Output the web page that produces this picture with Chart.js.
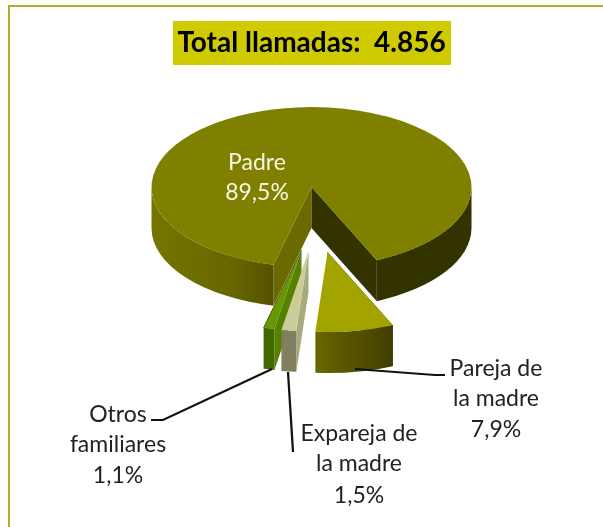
<!DOCTYPE html>
<html lang="es">
<head>
<meta charset="utf-8">
<title>Total llamadas</title>
<script src="https://cdn.jsdelivr.net/npm/chart.js@4/dist/chart.umd.min.js"></script>
<style>
  html, body { margin: 0; padding: 0; background: #fff; overflow: hidden; }
  canvas { display: block; }
</style>
</head>
<body>
<canvas id="myChart" width="603" height="527"></canvas>
<script>
/* Data */
const categories = ['Padre', 'Pareja de la madre', 'Expareja de la madre', 'Otros familiares'];
const values = [89.5, 7.9, 1.5, 1.1];
const percentLabels = ['89,5%', '7,9%', '1,5%', '1,1%'];
const titleText = 'Total llamadas:  4.856';

/* Slice styles */
const topColors = ['#808000', '#a3a300', '#cccc99', '#669900'];
const wallColors = [
  ['#757500', '#6e6e00', '#686600', '#545200'],
  ['#6b6800', '#5a5600', '#4f4c00', '#3f3d00'],
  ['#808060', '#808060'],
  ['#3f6a00', '#3f6a00']
];
const wallRightColor = ['#333300', null, null, null];
const startEdgeColors = ['#6b6a00', '#3f3d00', '#a9a97e', '#558000'];
const endEdgeColors = ['#333300', null, null, '#55551f'];
const explode = [[0, 0], [16, 65], [-3, 64], [-10, 63]];
const drawOrder = [0, 3, 2, 1];
const squash = 0.5;
const depth = 41;

/* Label layout: text lines and line-centre positions */
const labelLines = [
  { lines: ['Padre', percentLabels[0]], x: 257, y: [163, 193], color: '#f6f6e4' },
  { lines: ['Pareja de', 'la madre', percentLabels[1]], x: 496, y: [369, 399, 430], color: '#222' },
  { lines: ['Expareja de', 'la madre', percentLabels[2]], x: 359, y: [434, 464, 496], color: '#222' },
  { lines: ['Otros', 'familiares', percentLabels[3]], x: 118, y: [415, 445, 476], color: '#222' }
];
const leaders = [
  [[355, 369], [435, 375], [445, 375]],
  [[288, 372], [293, 452]],
  [[272, 369], [163, 420], [151, 420]]
];

function wall(ctx, el, dx, dy, from, to, fill) {
  const r = el.outerRadius;
  const x = el.x + dx;
  const y = el.y + dy;
  ctx.beginPath();
  ctx.ellipse(x, y, r, r * squash, 0, from, to);
  ctx.ellipse(x, y + depth, r, r * squash, 0, to, from, true);
  ctx.closePath();
  ctx.fillStyle = fill;
  ctx.fill();
}

function cutFace(ctx, el, dx, dy, angle, fill) {
  const r = el.outerRadius;
  const x = el.x + dx;
  const y = el.y + dy;
  const ox = x + Math.cos(angle) * r;
  const oy = y + Math.sin(angle) * r * squash;
  ctx.beginPath();
  ctx.moveTo(x, y);
  ctx.lineTo(ox, oy);
  ctx.lineTo(ox, oy + depth);
  ctx.lineTo(x, y + depth);
  ctx.closePath();
  ctx.fillStyle = fill;
  ctx.fill();
}

const pie3d = {
  id: 'pie3d',
  beforeDraw(chart) {
    const ctx = chart.ctx;
    ctx.save();
    ctx.fillStyle = '#fff';
    ctx.fillRect(0, 0, chart.width, chart.height);
    ctx.strokeStyle = '#b5a92e';
    ctx.lineWidth = 2;
    ctx.beginPath();
    ctx.moveTo(9, chart.height);
    ctx.lineTo(9, 6);
    ctx.lineTo(chart.width, 6);
    ctx.stroke();
    ctx.fillStyle = '#cfcb00';
    ctx.fillRect(173, 21, 278, 44);
    ctx.restore();
  },
  beforeDatasetsDraw(chart) {
    const ctx = chart.ctx;
    const arcs = chart.getDatasetMeta(0).data;
    for (const i of drawOrder) {
      const el = arcs[i];
      const [dx, dy] = explode[i];
      const r = el.outerRadius;
      const full = Math.PI * 2;
      ctx.save();
      // radial cut faces
      cutFace(ctx, el, dx, dy, el.startAngle, startEdgeColors[i]);
      if (endEdgeColors[i] && i === 0) cutFace(ctx, el, dx, dy, el.endAngle, endEdgeColors[i]);

      // outer wall, only the part facing the viewer (0..180 deg)
      const ranges = [];
      for (const k of [0, 1, 2]) {
        const from = Math.max(el.startAngle, k * full);
        const to = Math.min(el.endAngle, k * full + Math.PI);
        if (to > from) ranges.push([from, to]);
      }
      for (const [from, to] of ranges) {
        if (wallRightColor[i] && Math.cos((from + to) / 2) > 0) {
          wall(ctx, el, dx, dy, from, to, wallRightColor[i]);
        } else {
          const x0 = el.x + dx + Math.cos(to) * r;
          const x1 = el.x + dx + Math.cos(from) * r;
          const grad = ctx.createLinearGradient(x0, 0, x1, 0);
          wallColors[i].forEach((c, n) => grad.addColorStop(n / (wallColors[i].length - 1), c));
          wall(ctx, el, dx, dy, from, to, grad);
        }
      }

      // top face: the library's own arc, squashed into an ellipse
      ctx.save();
      ctx.translate(el.x + dx, el.y + dy);
      ctx.scale(1, squash);
      ctx.translate(-el.x, -el.y);
      el.draw(ctx);
      ctx.restore();

      // thin dark rim on the outer slice's open edge
      if (i === 3) {
        ctx.strokeStyle = endEdgeColors[i];
        ctx.lineWidth = 1;
        ctx.beginPath();
        ctx.moveTo(el.x + dx, el.y + dy);
        ctx.lineTo(el.x + dx + Math.cos(el.endAngle) * r, el.y + dy + Math.sin(el.endAngle) * r * squash);
        ctx.stroke();
      }
      ctx.restore();
    }
    return false;
  },
  afterDraw(chart) {
    const ctx = chart.ctx;
    ctx.save();
    ctx.strokeStyle = '#111';
    ctx.lineWidth = 2.2;
    for (const line of leaders) {
      ctx.beginPath();
      line.forEach(([x, y], n) => (n ? ctx.lineTo(x, y) : ctx.moveTo(x, y)));
      ctx.stroke();
    }
    ctx.font = '23px Lato';
    ctx.textAlign = 'center';
    ctx.textBaseline = 'middle';
    for (const label of labelLines) {
      ctx.fillStyle = label.color;
      label.lines.forEach((t, n) => ctx.fillText(t, label.x, label.y[n]));
    }
    ctx.restore();
  }
};

const ctx = document.getElementById('myChart').getContext('2d');
const chart = new Chart(ctx, {
  type: 'pie',
  data: {
    labels: categories,
    datasets: [{
      data: values,
      backgroundColor: topColors,
      borderWidth: 0,
      radius: 160
    }]
  },
  options: {
    responsive: false,
    animation: false,
    rotation: 193.7,
    layout: { padding: { left: 20, bottom: 218 } },
    plugins: {
      legend: { display: false },
      tooltip: { enabled: false },
      title: {
        display: true,
        text: titleText,
        color: '#000',
        font: { family: 'Lato', size: 28, weight: 'bold', lineHeight: 1.2 },
        padding: { top: 26, bottom: 5.6 }
      }
    }
  },
  plugins: [pie3d]
});
</script>
</body>
</html>
